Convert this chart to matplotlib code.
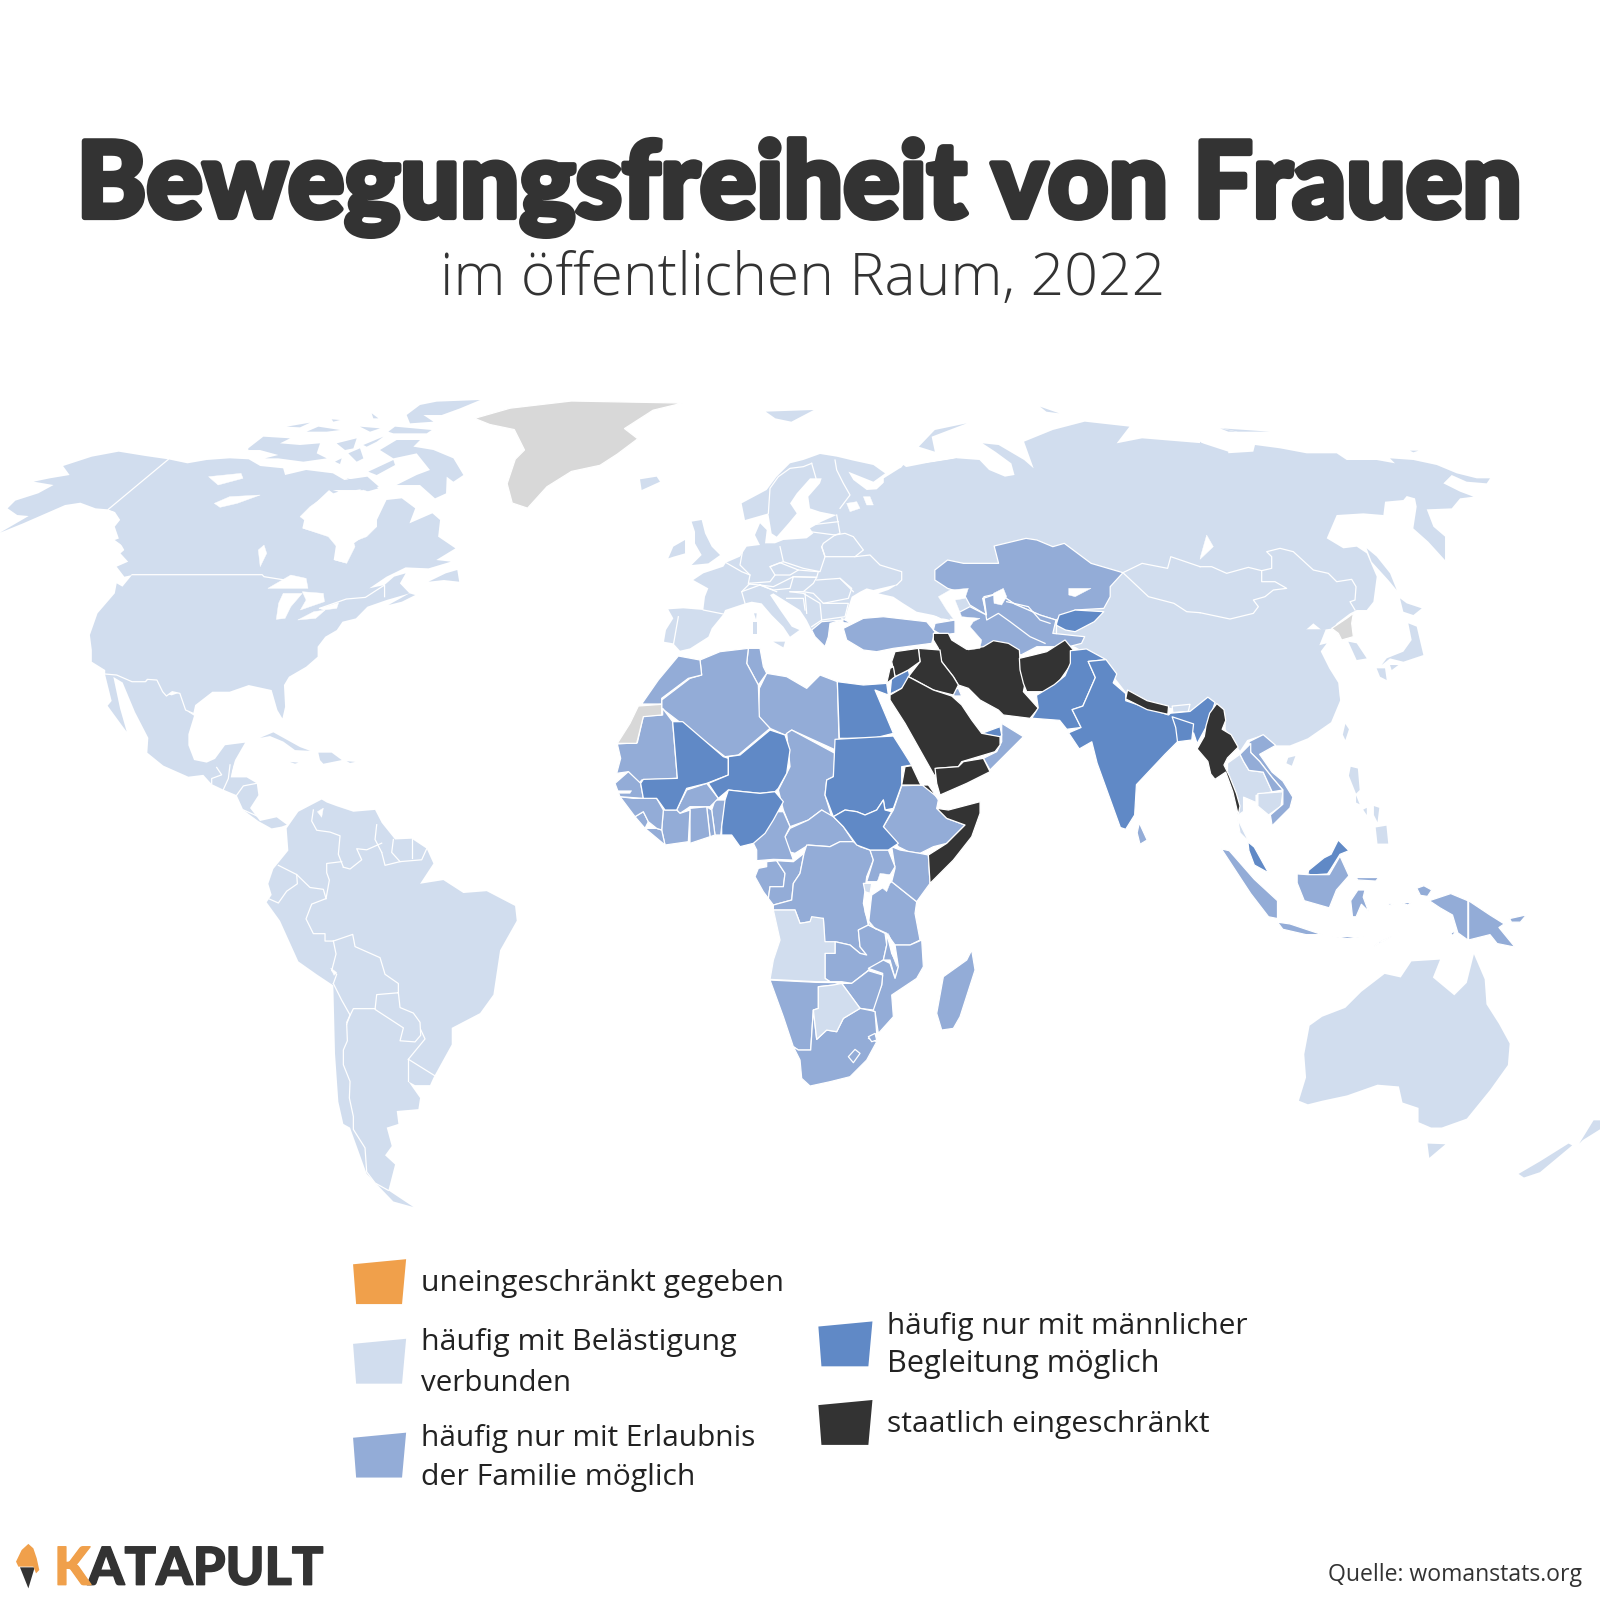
import numpy as np
import matplotlib

matplotlib.use('Agg')
import matplotlib.pyplot as plt
from matplotlib.patches import Polygon
import matplotlib.patheffects as pe

# =====================================================================
# 1. COLOURS AND TEXT
# =====================================================================
ORANGE = '#f0a04b'
LIGHT = '#d1ddee'
MID = '#93acd7'
STRONG = '#6089c6'
DARK = '#333333'
GREY = '#d8d8d8'
INK = '#333333'

title = 'Bewegungsfreiheit von Frauen'
subtitle = 'im öffentlichen Raum, 2022'
source = 'Quelle: womanstats.org'

legend_colors = [ORANGE, LIGHT, MID, STRONG, DARK]
legend_corners = [(346, 398, 1234), (346, 398, 1312), (346, 398, 1404), (802, 855, 1295), (802, 855, 1372)]
legend_lines = [
    ('uneingeschränkt gegeben', 413, 768, 1265),
    ('häufig mit Belästigung', 413, 722, 1323),
    ('verbunden', 413, 560, 1363),
    ('häufig nur mit Erlaubnis', 413, 741, 1417),
    ('der Familie möglich', 413, 682, 1455),
    ('häufig nur mit männlicher', 869, 1223, 1307),
    ('Begleitung möglich', 869, 1136, 1345),
    ('staatlich eingeschränkt', 869, 1184, 1403),
]

# =====================================================================
# 2. MAP OUTLINES, one sheet per region
# =====================================================================
# sheet: x offset, y offset, x scale, y scale
SHEETS = {
    'N': (0, 372.4, .375, .3267),
    'C': (215.6, 382.2, .3267, .3267),
    'E': (588, 372.4, .625, .3267),
    'U': (627.2, 431.2, .3267, .3267),
    'R': (1176, 411.6, .3267, .3267),
    'A': (588, 607.6, .3267, .3267),
    'S': (1019.2, 627.2, .35, .35),
    'L': (58.8, 627.2, .3267, .362),
    'D': (0, 0, 1, 1),
}

# --- North America (sheets N, C)
alaska = [(440,238),(380,228),(310,215),(240,230),(165,258),(182,285),(130,295),(88,305),(140,315),(100,340),(40,362),(20,385),(45,405),(75,408),(0,458),(60,430),(110,405),(170,375),(210,368),(250,385),(283,388),(300,395),(335,395),(342,460),(330,520),(315,490),(300,440)]
canada_usa = [(440,238),(490,250),(540,240),(600,235),(650,238),(680,258),(740,265),(745,285),(800,270),(870,280),(900,300),(960,290),(990,320),(930,330),(860,330),(800,395),(790,445),(850,465),(880,480),(872,540),(900,548),(925,490),(985,440),(985,420),(1010,360),(1050,355),(1085,385),(1070,430),(1130,400),(1150,420),(1145,470),(1190,505),(1140,540),(1178,545),(1120,565),(1060,562),(1010,590),(965,625),(1005,615),(1030,590),(1060,580),(1045,610),(1070,640),(1040,650),(1010,660),(960,680),(930,715),(895,725),(880,750),(850,770),(830,800),(830,830),(800,860),(755,890),(742,915),(745,980),(738,1015),(725,990),(710,930),(690,925),(650,915),(600,935),(555,935),(510,975),(505,1000),(485,990),(470,940),(450,935),(435,948),(425,935),(410,900),(385,898),(380,905),(345,905),(305,885),(275,882),(275,870),(240,845),(240,810),(235,765),(255,700),(300,640),(305,610),(320,620),(345,585),(325,590),(305,560),(335,545),(315,520),(330,505),(300,480),(335,465),(320,430),(300,395),(283,388)]
atlantic_canada = [
    [(1120,605),(1165,580),(1195,570),(1200,605),(1160,600)],
    [(1015,675),(1070,640),(1085,645),(1050,665)],
]
arctic_islands = [
    [(85,175),(130,140),(210,145),(180,160),(240,165),(300,160),(290,190),(320,205),(250,215),(175,205),(135,205),(175,195),(120,180),(85,180)],
    [(200,110),(270,98),(240,112)],
    [(260,125),(295,110),(360,120),(320,125)],
    [(335,88),(360,90),(340,95)],
    [(350,160),(410,145),(400,175),(375,180)],
    [(430,165),(490,140),(470,155),(440,170)],
    [(345,215),(365,205),(360,222)],
    [(385,190),(420,175),(430,205),(410,215)],
    [(420,110),(480,115),(450,125)],
    [(455,70),(475,85),(460,85)],
    [(505,125),(525,110),(635,120),(620,130),(520,130)],
    [(580,170),(640,180),(700,205),(730,255),(700,275),(680,260),(678,310),(645,325),(600,285),(530,285),(590,255),(630,240),(590,190),(520,205),(480,180),(530,150),(600,150)],
    [(445,245),(520,210),(525,225),(470,255)],
    [(420,300),(450,275),(475,295),(440,305)],
    [(380,265),(425,275),(395,275)],
    [(320,295),(355,305),(340,310)],
    [(560,75),(600,45),(650,35),(780,30),(720,55),(665,75),(610,75),(640,95),(570,100)],
]
hudson_bay = [(240,380),(270,350),(320,315),(400,310),(430,300),(500,325),(470,380),(470,410),(440,440),(400,455),(405,470),(380,520),(345,510),(350,470),(325,440),(250,415),(260,395)]
na_lakes = [
    [(545,290),(630,280),(635,295),(570,315)],
    [(560,370),(600,350),(680,345),(620,370),(575,382)],
    [(675,510),(690,495),(697,520),(680,560)],
    [(700,625),(760,585),(800,595),(805,625),(760,625)],
    [(740,640),(790,640),(760,680),(745,715),(722,718),(728,670)],
    [(790,635),(845,640),(848,665),(810,680),(785,690),(800,660)],
    [(778,720),(820,695),(850,690),(825,715)],
    [(835,685),(885,668),(880,685),(845,690)],
]
na_borders = [
    [(440,238),(283,388)],
    [(345,584),(685,584),(690,590),(745,600)],
    [(835,685),(905,657),(955,652),(1005,615),(1005,650)],
    [(505,1000),(485,990),(470,940),(450,935),(435,948),(425,935),(410,900),(385,898),(380,905),(345,905),(305,885),(275,882)],
]

# --- Greenland
greenland = [(465,410),(500,400),(560,393),(669,395),(640,402),(612,420),(625,430),(605,445),(588,456),(560,462),(536,477),(517,498),(502,493),(497,474),(505,450),(514,441),(504,421),(480,416)]

# --- Mexico, Caribbean, South America (sheet L)
mexico = [(135,92),(170,92),(215,112),(260,112),(265,105),(295,108),(315,145),(335,150),(360,142),(385,195),(402,205),(385,255),(385,285),(402,325),(440,332),(465,322),(495,285),(555,278),(525,325),(510,370),(455,390),(430,365),(385,370),(310,340),(262,305),(265,265),(225,195),(188,115),(160,100),(180,185),(200,248),(185,230),(143,178),(155,165)]
central_america = [(455,390),(470,345),(510,338),(520,335),(512,372),(560,372),(590,388),(595,420),(570,455),(600,490),(650,480),(680,500),(665,505),(635,510),(595,490),(550,460),(530,420),(490,405)]
caribbean = [
    [(600,265),(640,250),(680,270),(720,290),(750,300),(705,298),(670,275),(630,260)],
    [(775,305),(815,305),(845,325),(790,335),(780,325)],
    [(690,330),(715,332),(705,335)],
    [(860,328),(885,330),(870,333)],
]
south_america = [(680,510),(715,465),(785,432),(800,440),(830,450),(880,465),(945,460),(965,495),(1005,540),(1055,538),(1100,565),(1120,605),(1080,660),(1150,650),(1210,685),(1280,680),(1365,720),(1370,760),(1320,840),(1310,900),(1300,960),(1260,1010),(1175,1050),(1175,1095),(1120,1185),(1110,1205),(1065,1205),(1045,1195),(1080,1240),(1075,1270),(1010,1275),(1015,1310),(980,1320),(995,1370),(975,1395),(1005,1420),(985,1490),(1060,1535),(1000,1520),(920,1445),(870,1320),(850,1310),(835,1250),(825,1120),(820,935),(770,905),(715,870),(660,760),(620,710),(635,690),(625,660),(640,620),(685,570)]
sa_lakes = [[(772,465),(790,455),(785,480)], [(812,888),(830,900),(822,908)]]
sa_borders = [
    [(760,460),(755,490),(770,515),(810,520),(840,530),(835,580),(850,615)],
    [(950,500),(945,540),(965,575)],
    [(965,550),(920,568),(890,565),(905,595),(870,620),(850,615)],
    [(845,600),(800,605),(800,630),(808,650),(798,700)],
    [(655,610),(710,635),(712,660),(680,680),(655,712),(625,700)],
    [(710,635),(750,670),(790,675),(798,700)],
    [(798,700),(755,715),(738,755),(760,795),(795,795),(795,815),(820,815)],
    [(820,815),(878,797),(885,830),(960,860),(975,905),(1015,930),(1015,955)],
    [(1015,955),(1020,995),(1060,1010),(1080,1035),(1082,1070),(1065,1088),(1020,1085),(1030,1050),(945,1000),(950,960),(1015,955)],
    [(945,998),(880,998),(860,1035)],
    [(820,815),(828,850),(815,895),(830,905),(820,930)],
    [(820,930),(845,975),(870,1015),(860,1040)],
    [(860,1040),(862,1085),(850,1110),(850,1150),(870,1195),(868,1240),(880,1290),(880,1325),(915,1375),(920,1440),(945,1470),(985,1490)],
    [(1045,1135),(1125,1180)],
    [(1045,1135),(1045,1195)],
    [(1045,1135),(1095,1080),(1082,1055)],
    [(1000,540),(995,575),(1020,600)],
    [(1055,540),(1055,590)],
    [(965,575),(975,610),(1020,600),(1085,595),(1100,565)],
    [(470,345),(485,365),(455,375),(455,390)],
    [(510,338),(505,375),(490,405)],
    [(530,420),(550,395),(590,388)],
    [(550,460),(600,480)],
]

# --- Europe (sheet U)
europe = [(540,42),(590,50),(640,62),(700,75),(735,100),(700,125),(650,105),(625,95),(640,120),(680,150),(710,148),(740,120),(770,100),(790,75),(810,90),(860,70),(950,55),(960,70),(1000,300),(890,380),(930,540),(880,525),(830,515),(790,490),(760,470),(715,460),(745,450),(775,432),(720,445),(700,450),(680,445),(660,455),(635,470),(622,510),(615,535),(605,540),(555,545),(515,570),(500,540),(480,510),(440,485),(400,460),(390,465),(420,510),(455,560),(478,570),(450,590),(430,560),(395,525),(365,490),(335,485),(315,490),(300,495),(255,510),(250,522),(215,565),(205,590),(150,625),(120,632),(100,610),(72,605),(78,570),(100,535),(85,508),(130,505),(190,510),(195,470),(205,445),(160,420),(190,400),(250,380),(258,368),(300,350),(320,320),(360,315),(345,285),(360,250),(380,270),(375,310),(405,310),(430,300),(500,295),(520,280),(510,265),(545,245),(590,225),(540,215),(510,205),(505,170),(540,130),(545,115),(510,115),(470,160),(450,190),(470,220),(445,250),(410,290),(395,280),(385,220),(315,240),(305,190),(380,150),(410,110),(450,70),(490,60)]
europe_islands = [
    [(155,245),(185,240),(195,280),(215,320),(240,345),(205,370),(155,375),(185,345),(165,310),(165,275)],
    [(85,355),(100,320),(135,300),(135,340),(100,350)],
    [(400,605),(435,605),(430,622)],
    [(338,545),(352,545),(352,582),(338,582)],
    [(342,520),(350,520),(348,538)],
    [(0,118),(50,110),(60,125),(5,150)],
]
turkey = [(610,565),(670,535),(730,530),(860,545),(885,575),(875,610),(760,625),(710,635),(670,630),(620,600)]
thrace = [(605,535),(635,550),(610,548)]
greece = [(515,570),(545,545),(610,540),(570,550),(565,590),(555,620),(535,600),(525,590)]
caucasus = [(885,550),(945,540),(945,580),(905,585),(880,570)]
u_lakes = [
    [(895,470),(930,450),(985,445),(975,475),(945,480),(965,530),(1020,535),(1000,545),(990,560),(1025,600),(1020,625),(985,630),(945,590),(950,550),(920,510)],
    [(1060,460),(1090,445),(1100,470),(1085,495),(1062,490)],
    [(620,190),(650,185),(660,205),(630,215)],
    [(670,170),(690,170),(700,195),(680,195)],
]
u_borders = [
    [(515,70),(490,80),(450,85),(415,110),(390,145),(385,220)],
    [(515,70),(528,115)],
    [(585,60),(590,90),(610,130),(630,165),(600,205)],
    [(510,255),(595,245)],
    [(510,275),(585,285)],
    [(590,225),(600,280),(585,285)],
    [(585,285),(550,310),(545,320)],
    [(585,285),(615,280),(640,290),(670,330),(645,350),(555,350),(545,320)],
    [(645,350),(690,345),(720,375),(785,395),(785,420),(770,435)],
    [(420,320),(430,365),(490,385),(540,395),(555,350),(545,320)],
    [(310,320),(300,375),(330,405),(325,430),(390,425),(405,405),(390,380),(430,365)],
    [(258,368),(305,395),(330,405)],
    [(330,430),(305,455),(315,490)],
    [(390,380),(420,368),(475,390),(450,405),(405,405)],
    [(475,390),(535,395),(530,412),(460,410)],
    [(325,432),(360,435),(400,440),(460,410),(450,445),(400,450),(360,435)],
    [(460,410),(530,412),(520,430),(490,455),(450,455)],
    [(530,420),(600,415),(635,445),(625,475),(550,490),(520,460),(490,455)],
    [(600,415),(640,455)],
    [(550,490),(625,490),(615,530),(545,540)],
    [(450,455),(490,460),(540,490),(545,540),(515,560)],
    [(440,475),(490,475),(495,510)],
    [(495,460),(500,520)],
    [(305,455),(360,435),(410,455)],
    [(190,510),(250,522)],
    [(115,530),(100,615)],
    [(1030,475),(1060,465)],
    [(1030,475),(1040,540),(1075,520),(1110,545),(1170,590),(1215,610)],
    [(1100,485),(1165,500),(1200,540),(1230,550)],
]

# --- Russia and Central Asia (sheet E)
russia_west = [(445,295),(470,265),(510,250),(545,240),(560,235),(595,240),(610,270),(635,290),(650,285),(645,250),(620,215),(600,190),(625,195),(665,240),(680,265),(665,185),(710,150),(760,125),(830,140),(810,190),(850,175),(945,190),(985,215),(1000,700),(1000,1000),(800,860),(745,800),(620,720),(535,715),(500,680),(470,600),(470,400),(445,325)]
arctic_russia = [
    [(260,95),(335,90),(300,125),(275,115)],
    [(575,130),(525,150),(500,200),(525,215),(520,170)],
    [(690,80),(720,100),(700,95)],
    [(975,145),(1050,155),(1000,155)],
]
kazakhstan = [(525,570),(545,540),(570,550),(625,550),(618,498),(668,475),(685,480),(710,500),(728,490),(770,550),(820,578),(800,620),(800,650),(790,685),(745,690),(715,720),(690,705),(650,672),(625,640),(600,655),(606,705),(580,675),(570,640),(545,625),(525,600)]
central_asia = [(580,680),(606,705),(602,650),(625,640),(650,672),(690,705),(715,720),(710,760),(760,770),(755,790),(735,800),(710,800),(685,800),(660,825),(620,785),(600,805),(575,800),(565,770),(560,700)]
kyrgyzstan = [(720,705),(745,690),(790,695),(775,725),(745,755),(730,750),(715,735)]
e_lakes = [[(735,625),(770,625),(745,650),(735,645)]]
e_borders = [
    [(820,578),(850,550),(890,565),(895,530),(941,560)],
    [(820,578),(860,650),(900,670),(920,695),(941,698)],
    [(715,720),(715,760)],
]

# --- Far East (sheet R)
far_east = [(0,65),(20,80),(80,100),(160,95),(165,75),(240,85),(320,100),(410,100),(440,120),(530,120),(585,130),(570,115),(640,120),(710,135),(770,160),(830,175),(870,175),(860,190),(800,185),(755,165),(730,190),(780,215),(820,230),(780,235),(755,265),(680,268),(700,320),(735,350),(735,420),(685,365),(640,325),(650,260),(645,235),(620,228),(610,240),(555,245),(550,285),(490,280),(410,285),(380,355),(430,385),(470,380),(500,400),(530,470),(520,545),(500,570),(470,570),(450,580),(410,610),(400,625),(365,630),(340,610),(300,645),(340,680),(380,670),(350,710),(380,770),(410,800),(420,840),(300,840),(0,840)]
far_east_islands = [
    [(500,385),(530,410),(570,460),(590,510),(565,480),(515,425)],
    [(600,535),(620,550),(665,565),(640,585),(610,575)],
    [(625,610),(650,620),(670,705),(640,715),(610,725),(570,715),(545,735),(560,715),(610,695),(635,660)],
    [(530,745),(555,745),(560,780),(540,770)],
    [(570,735),(595,735),(575,750)],
    [(445,665),(470,670),(500,715),(470,720)],
    [(60,25),(110,35),(85,35)],
    [(630,92),(655,92),(640,97)],
]
north_korea = [(395,625),(440,595),(460,580),(455,610),(460,650),(425,660),(415,640)]
r_lakes = [[(20,345),(40,380),(0,418),(2,408)]]
r_borders = [
    [(0,440),(35,440),(80,460),(145,442),(185,452),(215,445),(215,410),(200,395),(240,385),(280,395),(340,450),(385,460),(410,485),(455,478),(468,500),(465,540),(450,545),(465,570)],
    [(185,452),(185,485),(225,485),(260,505),(220,510),(195,530),(160,540),(175,560),(160,580),(90,597),(0,578)],
]

# --- Africa and Middle East (sheet A)
iran = [(1000,40),(1045,40),(1055,60),(1100,88),(1150,80),(1180,62),(1225,70),(1258,90),(1262,155),(1275,190),(1270,215),(1315,265),(1290,295),(1210,285),(1195,270),(1140,240),(1105,205),(1075,195),(1060,170),(1025,125),(1015,85),(1000,60)]
afghanistan = [(1258,115),(1300,105),(1340,95),(1395,60),(1420,90),(1415,130),(1380,180),(1345,215),(1280,215),(1270,190),(1260,150)]
iraq = [(1020,90),(1025,125),(1060,170),(1075,195),(1060,225),(1000,210),(945,180),(925,170),(960,125),(955,85)]
syria = [(885,95),(955,85),(960,125),(925,150),(885,170),(875,125)]
israel = [(880,140),(885,170),(860,190),(870,145)]
saudi_arabia = [(870,225),(905,205),(925,170),(1000,210),(1055,228),(1085,255),(1115,300),(1145,340),(1200,350),(1200,375),(1185,395),(1085,425),(1075,440),(1010,445),(1005,470),(960,390),(915,310),(870,240)]
yemen = [(1005,445),(1075,440),(1090,425),(1150,415),(1170,455),(1100,490),(1020,525),(1010,490)]
eritrea = [(905,495),(915,440),(935,437),(960,490),(1010,530),(985,495)]
somalia = [(1010,565),(1045,570),(1140,545),(1140,580),(1115,650),(1060,720),(990,790),(985,705),(1040,670),(1095,615),(1040,595)]
jordan = [(885,170),(925,150),(930,172),(905,205),(870,222),(875,170)]
uae = [(1145,340),(1200,320),(1205,345),(1200,352)]
egypt = [(712,185),(790,195),(860,190),(865,225),(825,210),(880,340),(820,355),(718,355)]
mali = [(218,305),(248,305),(370,410),(385,415),(385,465),(320,490),(260,505),(230,570),(195,570),(170,535),(130,535),(122,490),(130,478),(232,475)]
niger = [(385,410),(420,405),(510,330),(555,345),(570,390),(560,460),(535,505),(525,515),(480,520),(430,515),(385,510),(355,535),(325,490),(385,465)]
nigeria = [(365,620),(375,540),(385,510),(430,515),(480,520),(525,515),(550,545),(520,600),(495,640),(460,670),(420,680),(395,645),(365,645)]
sudan = [(705,358),(880,348),(910,395),(935,435),(905,440),(905,495),(880,565),(855,570),(850,540),(830,570),(795,585),(770,575),(735,570),(700,590),(675,525),(680,480),(700,470)]
south_sudan = [(700,590),(735,570),(770,575),(795,585),(830,570),(850,540),(855,570),(875,575),(850,620),(895,670),(865,690),(810,690),(770,675),(730,620)]
oman = [(1205,310),(1270,350),(1235,385),(1170,450),(1150,415),(1190,395),(1205,365)]
kuwait = [(1055,210),(1075,205),(1085,228),(1062,228)]
libya = [(478,205),(500,160),(560,170),(620,205),(660,165),(712,185),(718,395),(575,330),(555,345),(510,325),(475,290)]
tunisia = [(445,85),(480,85),(490,140),(500,160),(475,195),(440,130)]
algeria = [(300,120),(360,95),(445,85),(440,130),(475,195),(478,290),(510,325),(415,405),(375,410),(185,265),(185,240),(270,175),(305,165)]
morocco = [(235,108),(300,120),(305,165),(265,175),(185,235),(185,252),(125,252),(175,180)]
mauritania = [(52,372),(112,368),(130,288),(188,285),(188,265),(218,305),(232,475),(125,480),(118,490),(85,455),(50,460),(62,415)]
chad = [(560,340),(575,330),(705,400),(700,470),(680,480),(675,525),(695,590),(665,570),(625,600),(570,620),(550,570),(535,510),(570,440)]
ethiopia = [(905,497),(985,495),(1015,540),(1010,565),(1040,595),(1095,615),(1040,670),(1000,680),(960,700),(925,695),(895,680),(850,620),(880,570)]
car = [(555,650),(570,625),(625,600),(665,570),(700,590),(730,620),(760,665),(720,665),(690,680),(625,675),(585,700),(565,695)]
cameroon = [(460,670),(490,635),(530,575),(550,575),(570,620),(555,650),(580,720),(520,718),(470,722),(470,690)]
benin = [(345,540),(378,540),(365,620),(362,645),(345,645),(335,570)]
togo = [(320,560),(335,570),(345,645),(330,650)]
ghana = [(270,565),(320,560),(330,650),(270,670)]
burkina = [(230,570),(260,510),(320,490),(355,535),(330,560),(270,560),(240,580)]
ivory_coast = [(190,570),(230,570),(240,580),(270,570),(265,665),(195,675),(185,630)]
liberia = [(135,625),(170,625),(185,630),(195,675)]
sierra_leone = [(105,590),(130,575),(145,605),(135,625)]
guinea = [(60,530),(100,535),(130,535),(170,535),(190,570),(185,630),(170,625),(145,605),(130,575),(105,590)]
senegal = [(45,490),(85,455),(122,490),(130,535),(60,530)]
gabon = [(465,770),(475,745),(500,740),(500,725),(530,722),(555,760),(550,800),(510,800),(505,835),(490,815)]
congo = [(530,722),(580,725),(612,700),(600,760),(580,790),(575,840),(520,855),(505,835),(510,800),(550,800),(555,760)]
drc = [(620,675),(690,680),(720,665),(760,665),(780,680),(810,690),(820,720),(800,770),(790,850),(805,915),(775,930),(780,980),(800,1005),(780,1000),(750,975),(705,965),(705,1000),(675,1000),(670,895),(630,905),(600,910),(585,870),(520,870),(520,855),(575,840),(580,790),(600,760),(612,700)]
zambia = [(675,1000),(705,1000),(705,965),(750,975),(780,1000),(800,1005),(780,980),(775,930),(805,915),(855,940),(860,975),(850,1020),(805,1050),(800,1055),(755,1090),(725,1085),(690,1085),(675,1075)]
tanzania = [(815,825),(875,785),(950,845),(945,880),(960,960),(930,975),(885,975),(860,940),(805,915)]
kenya = [(875,680),(900,690),(960,700),(985,705),(990,790),(950,845),(875,785),(885,745)]
uganda = [(810,690),(865,690),(885,740),(870,765),(830,785),(800,785),(820,720)]
rwanda_burundi = [(790,790),(815,790),(810,820),(795,815)]
malawi = [(860,940),(875,1000),(895,1040),(885,1075),(870,1020),(850,1020),(860,975)]
mozambique = [(885,975),(930,975),(965,960),(970,1040),(950,1075),(875,1125),(880,1190),(835,1240),(825,1175),(815,1170),(845,1095),(848,1060),(805,1045),(850,1020),(870,1030),(885,1075),(895,1040)]
zimbabwe = [(755,1090),(805,1052),(848,1065),(845,1095),(820,1170),(780,1165),(725,1090)]
namibia = [(510,1080),(650,1087),(725,1088),(700,1095),(655,1100),(655,1165),(640,1170),(632,1290),(595,1290),(580,1280),(550,1190)]
south_africa = [(580,1280),(595,1290),(632,1290),(640,1170),(650,1258),(680,1230),(710,1235),(730,1195),(780,1165),(815,1172),(825,1175),(830,1240),(805,1255),(830,1265),(800,1320),(750,1370),(690,1385),(630,1398),(605,1375),(600,1320)]
lesotho = [(745,1310),(765,1288),(780,1300),(760,1328)]
swaziland = [(805,1250),(825,1240),(830,1260),(815,1265)]
madagascar = [(1115,990),(1125,1050),(1080,1190),(1060,1225),(1025,1230),(1010,1180),(1030,1070),(1100,1020)]
angola = [(520,870),(585,870),(600,910),(630,905),(635,890),(670,895),(675,965),(705,965),(705,1000),(675,1000),(675,1075),(690,1085),(650,1085),(510,1078),(520,1020),(540,960)]
botswana = [(655,1100),(700,1095),(725,1090),(780,1165),(730,1195),(710,1235),(680,1230),(650,1258),(640,1170),(655,1165)]
western_sahara = [(115,258),(185,253),(185,285),(130,290),(110,370),(52,370),(90,310)]
a_lakes = [
    [(830,790),(840,760),(880,765),(860,815)],
    [(790,840),(805,900),(830,930),(810,915),(795,880)],
    [(865,940),(880,975),(890,1040),(875,1000)],
    [(50,512),(95,512),(90,520),(52,520)],
]

# --- South and South East Asia, Oceania (sheet S)
china_south = [(130,-30),(800,-30),(780,20),(810,80),(835,120),(840,170),(815,230),(750,275),(700,295),(660,295),(625,265),(580,280),(560,310),(520,250),(520,215),(495,175),(470,160),(420,200),(365,190),(300,170),(240,145),(205,100),(180,50),(130,25)]
bhutan = [(370,185),(420,180),(415,200),(372,203)]
pakistan = [(-23,219),(-5,190),(-10,155),(40,125),(70,100),(85,65),(85,30),(130,25),(185,55),(135,60),(155,105),(120,185),(90,195),(115,245),(75,250),(55,225)]
india = [(135,60),(185,55),(215,95),(205,120),(240,150),(240,170),(360,210),(365,205),(420,200),(470,160),(490,175),(470,235),(440,290),(430,260),(415,275),(385,285),(350,320),(270,405),(265,490),(240,530),(225,525),(160,345),(145,285),(110,305),(80,260),(115,245),(90,195),(120,185),(155,105)]
bangladesh = [(370,215),(430,235),(425,280),(385,285),(380,245)]
nepal = [(245,140),(300,170),(360,185),(358,208),(300,195),(240,165)]
myanmar = [(495,178),(515,195),(520,225),(510,250),(535,265),(555,300),(525,330),(515,350),(530,380),(550,430),(560,465),(555,490),(540,425),(520,370),(490,390),(478,375),(470,340),(440,305),(460,270),(465,240),(475,205)]
sri_lanka = [(278,512),(300,560),(280,572),(272,540)]
vietnam = [(585,285),(625,265),(660,295),(615,320),(650,370),(680,395),(708,440),(700,470),(650,520),(645,490),(680,460),(680,420),(650,385),(615,340),(590,315)]
laos = [(560,320),(590,290),(590,315),(615,340),(650,385),(680,420),(650,425),(625,370),(585,365),(570,340)]
thailand = [(525,345),(560,320),(570,340),(585,365),(625,370),(650,425),(605,435),(605,455),(570,440),(570,480),(555,490),(525,385)]
thailand_south = [(553,500),(585,565),(560,540)]
cambodia = [(610,430),(680,425),(675,465),(640,490),(610,465)]
malaysia_west = [(582,565),(600,580),(640,652),(600,630),(585,590)]
malaysia_east = [(750,655),(752,645),(795,610),(815,600),(835,560),(865,590),(840,600),(815,640),(805,655),(760,658)]
sumatra = [(508,585),(530,590),(600,670),(665,730),(665,780),(640,775),(590,710)]
borneo = [(720,655),(750,657),(810,657),(840,605),(865,660),(830,700),(810,750),(740,730),(720,680)]
java = [(665,790),(700,795),(790,825),(745,825),(680,810)]
sulawesi = [(870,730),(890,700),(910,700),(905,720),(920,760),(900,740),(885,775),(875,775)]
sulawesi_north = [(885,665),(950,665),(958,655),(940,675),(890,672)]
small_indonesia = [
    [(820,830),(905,830),(860,836)],
    [(935,858),(985,830),(950,845)],
    [(975,738),(990,740),(978,744)],
    [(1010,735),(1040,735),(1030,742)],
    [(1150,820),(1165,815),(1155,828)],
]
papua_west = [(1090,730),(1150,710),(1198,730),(1198,840),(1170,820),(1155,770),(1120,750)]
birds_head = [(1055,695),(1075,688),(1097,700),(1085,718),(1065,715)]
papua_new_guinea = [(1200,730),(1260,770),(1300,795),(1285,805),(1330,860),(1280,850),(1260,825),(1200,840)]
new_britain = [(1315,780),(1360,770),(1370,760),(1345,790),(1320,790)]
philippines = [
    [(870,355),(890,360),(895,420),(885,430),(865,380)],
    [(885,435),(895,460),(885,455)],
    [(905,475),(915,470),(915,490)],
    [(935,465),(950,470),(945,510),(935,490)],
    [(940,525),(970,520),(975,570),(945,570)],
]
taiwan_hainan = [
    [(855,235),(865,250),(855,280),(848,265)],
    [(695,330),(715,325),(705,352),(690,345)],
]
australia = [(725,1290),(745,1225),(740,1160),(755,1080),(790,1055),(855,1030),(900,985),(965,935),(1010,945),(1040,900),(1120,895),(1100,945),(1160,995),(1195,960),(1215,880),(1245,950),(1250,1020),(1285,1075),(1315,1130),(1310,1190),(1260,1260),(1195,1340),(1125,1365),(1095,1365),(1060,1350),(1060,1310),(1015,1295),(1005,1250),(945,1245),(860,1275),(790,1290),(750,1300)]
tasmania = [(1085,1410),(1135,1412),(1090,1450)]
new_zealand = [
    [(1340,1495),(1400,1460),(1480,1410),(1490,1415),(1400,1490),(1355,1505)],
    [(1510,1410),(1550,1345),(1568,1345),(1568,1370),(1520,1400)],
]

# land first, without edges, then the countries with white edges
land = [
    ('N', [alaska, canada_usa] + atlantic_canada),
    ('C', arctic_islands),
    ('L', [mexico, central_america, south_america] + caribbean),
    ('U', [europe] + europe_islands),
    ('E', [russia_west] + arctic_russia),
    ('R', [far_east] + far_east_islands),
    ('S', [china_south, australia, tasmania] + philippines + taiwan_hainan + new_zealand),
]
layers = [
    ('D', GREY, [greenland]),
    ('R', GREY, [north_korea]),
    ('S', LIGHT, [bhutan, thailand, thailand_south, cambodia]),
    ('U', MID, [turkey, thrace, greece, caucasus]),
    ('E', MID, [kazakhstan, central_asia]),
    ('E', STRONG, [kyrgyzstan]),
    ('A', MID, [libya, tunisia, algeria, morocco, mauritania, chad, ethiopia, car, cameroon, benin, togo, ghana, burkina, ivory_coast, liberia, sierra_leone, guinea, senegal, gabon, congo, drc, zambia, tanzania, kenya, uganda, malawi, mozambique, zimbabwe, namibia, south_africa, lesotho, swaziland, madagascar, oman, kuwait]),
    ('A', LIGHT, [angola, botswana, rwanda_burundi]),
    ('A', GREY, [western_sahara]),
    ('A', STRONG, [egypt, mali, niger, nigeria, sudan, south_sudan, jordan, uae]),
    ('A', DARK, [iran, afghanistan, iraq, syria, israel, saudi_arabia, yemen, eritrea, somalia]),
    ('S', STRONG, [pakistan, india, bangladesh, malaysia_west, malaysia_east]),
    ('S', DARK, [nepal, myanmar]),
    ('S', MID, [sri_lanka, vietnam, laos, sumatra, borneo, java, sulawesi, sulawesi_north, papua_west, birds_head, papua_new_guinea, new_britain] + small_indonesia),
]
lakes = [('N', na_lakes), ('C', [hudson_bay]), ('L', sa_lakes), ('U', u_lakes), ('E', e_lakes), ('R', r_lakes), ('A', a_lakes)]
borders = [('N', na_borders), ('L', sa_borders), ('U', u_borders), ('E', e_borders), ('R', r_borders)]

# logo shapes
cone = [(19.6, 1536), (34, 1536), (27.8, 1556.6)]
scoop = [(15.7, 1530.4), (21.2, 1519), (27.8, 1513), (32.7, 1517.4), (36, 1527.2), (38.5, 1538.6), (35.3, 1541.9), (32.7, 1535.3), (18, 1535.3)]


def to_page(sheet, pts):
    ox, oy, kx, ky = SHEETS[sheet]
    arr = np.array(pts, dtype=float)
    return arr * [kx, ky] + [ox, oy]


def fit_text(ax, x0, x1, y, text, color=INK, family='Open Sans', weight='normal', start=20, stroke=0):
    t = ax.text(x0, y, text, color=color, family=family, weight=weight, fontsize=start, va='baseline', ha='left')
    fig.canvas.draw()
    bb = t.get_window_extent().transformed(ax.transData.inverted())
    t.set_fontsize(start * (x1 - x0) / abs(bb.x1 - bb.x0))
    if stroke:
        t.set_path_effects([pe.withStroke(linewidth=stroke, foreground=color)])
    return t


# =====================================================================
# 3. DRAWING
# =====================================================================
fig = plt.figure(figsize=(16, 16), dpi=100, facecolor='white')
ax = fig.add_axes([0, 0, 1, 1])
ax.set_xlim(0, 1568)
ax.set_ylim(1568, 0)
ax.axis('off')

for sheet, outlines in land:
    for pts in outlines:
        ax.add_patch(Polygon(to_page(sheet, pts), closed=True, facecolor=LIGHT, edgecolor='none'))

for sheet, color, outlines in layers:
    for pts in outlines:
        ax.add_patch(Polygon(to_page(sheet, pts), closed=True, facecolor=color, edgecolor='white', lw=0.9, joinstyle='round'))

for sheet, outlines in lakes:
    for pts in outlines:
        ax.add_patch(Polygon(to_page(sheet, pts), closed=True, facecolor='white', edgecolor='white', lw=0.3))

for sheet, lines in borders:
    for pts in lines:
        xy = to_page(sheet, pts)
        ax.plot(xy[:, 0], xy[:, 1], color='white', lw=0.9, solid_joinstyle='round')

# title block
fit_text(ax, 75, 1493, 213, title, family=['Lato', 'Roboto', 'DejaVu Sans'], weight='black', start=90, stroke=4)
fit_text(ax, 431, 1140, 289, subtitle, family=['Open Sans', 'Lato'], weight='light', start=40)

# legend
for color, (xl, xr, ytop) in zip(legend_colors, legend_corners):
    swatch = [(xl, ytop + 5), (xr, ytop), (xr - 4, ytop + 44), (xl + 3, ytop + 44)]
    ax.add_patch(Polygon(swatch, closed=True, facecolor=color, edgecolor='none'))
for text, x0, x1, y in legend_lines:
    fit_text(ax, x0, x1, y, text, color='#222222', family=['Open Sans', 'Lato'], start=22)

# logo
ax.add_patch(Polygon(cone, closed=True, facecolor=DARK, edgecolor='none'))
ax.add_patch(Polygon(scoop, closed=True, facecolor=ORANGE, edgecolor='none'))
word = fit_text(ax, 86, 317, 1553, 'ATAPULT', color=DARK, family=['Lato', 'Roboto'], weight='black', start=40, stroke=1)
letter = ax.text(53, 1553, 'K', color=ORANGE, family=['Lato', 'Roboto'], weight='black', fontsize=word.get_fontsize(), va='baseline', ha='left')
letter.set_path_effects([pe.withStroke(linewidth=1, foreground=ORANGE)])

fit_text(ax, 1301, 1551, 1549, source, color=INK, family=['Open Sans', 'Lato'], start=16)

fig.savefig('out.png', dpi=100)
